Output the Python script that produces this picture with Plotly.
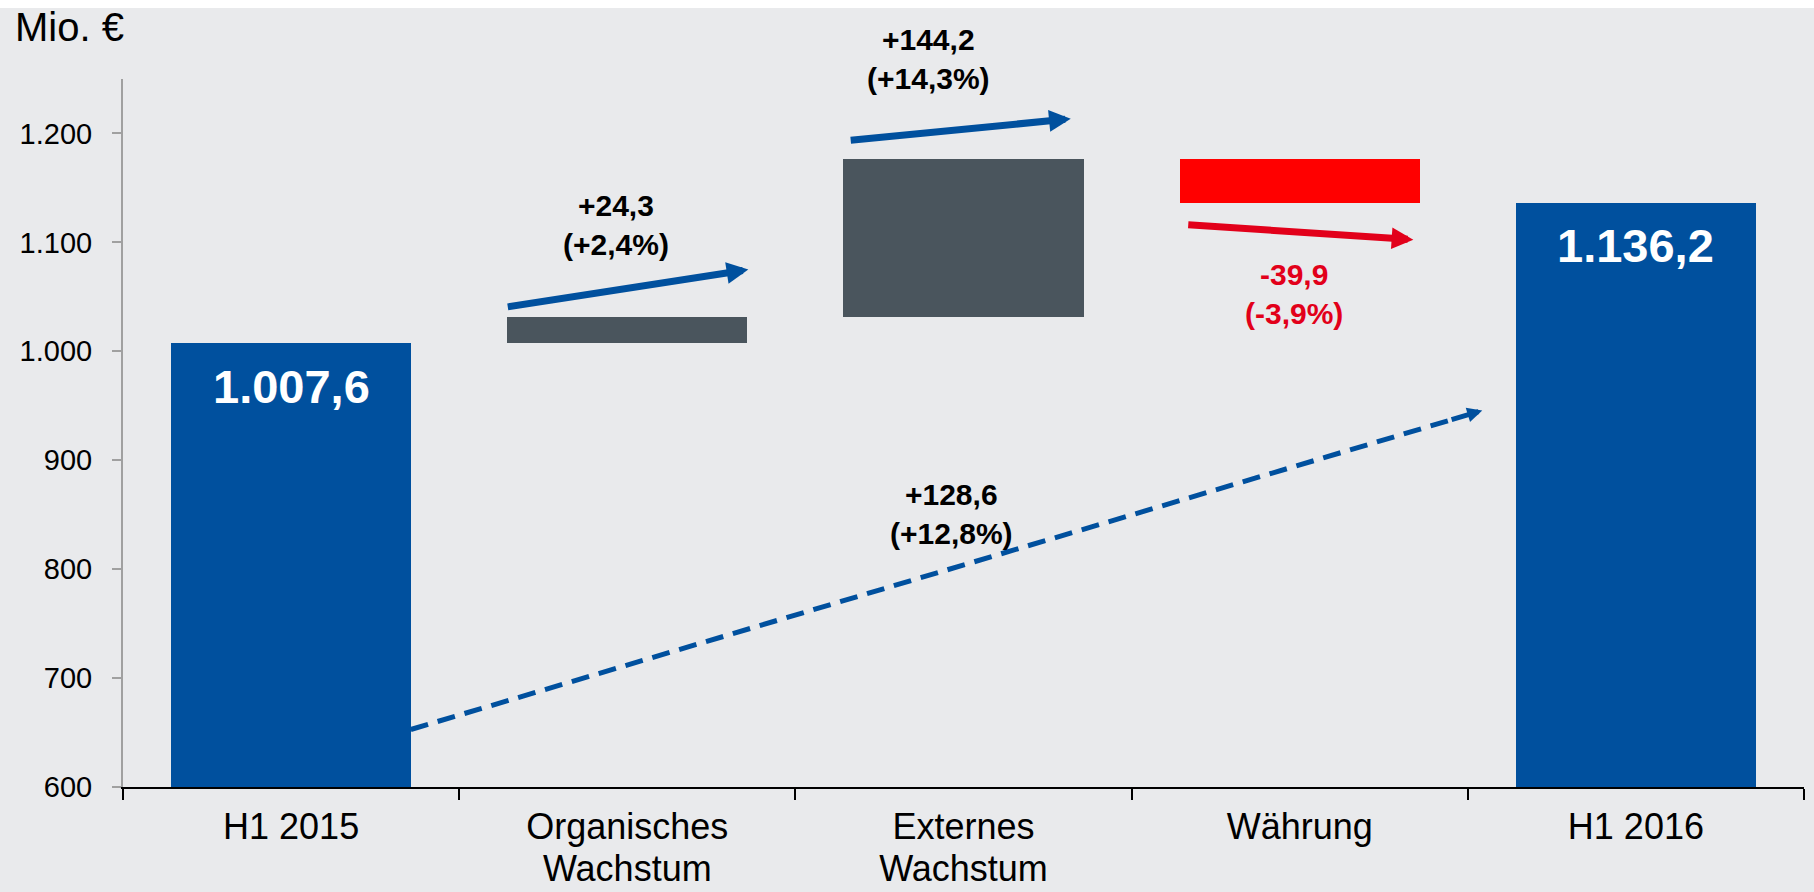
import plotly.graph_objects as go

# ---------------- data ----------------
categories = ["H1 2015", "Organisches<br>Wachstum", "Externes<br>Wachstum", "Währung", "H1 2016"]
start_value = 1007.6
changes = [24.3, 144.2, -39.9]          # organic, external, currency
end_value = 1136.2
change_labels = ["+24,3<br>(+2,4%)", "+144,2<br>(+14,3%)", "-39,9<br>(-3,9%)"]
total_change_label = "+128,6<br>(+12,8%)"
value_labels = ["1.007,6", "1.136,2"]
y_tick_vals = [600, 700, 800, 900, 1000, 1100, 1200]
y_tick_text = ["600", "700", "800", "900", "1.000", "1.100", "1.200"]
unit_label = "Mio. €"

# ---------------- styles ----------------
BLUE = "#00509E"
GREY = "#4A555D"
RED_BAR = "#FF0000"
RED = "#E2001A"
BG = "#E9EAEC"
FONT = "Liberation Sans, Arial, sans-serif"

x_pos = list(range(len(categories)))

# waterfall bases
bases = [0]
heights = [start_value]
running = start_value
for c in changes:
    bases.append(running)
    heights.append(c)
    running += c
bases.append(0)
heights.append(end_value)
colors = [BLUE, GREY, GREY, RED_BAR, BLUE]

fig = go.Figure()
fig.add_trace(go.Bar(
    x=x_pos, y=heights, base=bases, width=0.714,
    marker=dict(color=colors, line=dict(width=0)),
    hoverinfo="skip", showlegend=False,
))

# arrow geometry (axis units): tail x, tail y, head x, head y
arrow_geom = [
    (0.640, 1040.6, 1.360, 1075.0, BLUE),
    (1.660, 1193.6, 2.319, 1213.5, BLUE),
    (2.664, 1116.2, 3.338, 1102.5, RED),
]
annotations = []
for (ax0, ay0, hx, hy, col) in arrow_geom:
    annotations.append(dict(
        x=hx, y=hy, ax=ax0, ay=ay0, xref="x", yref="y", axref="x", ayref="y",
        text="", showarrow=True, arrowhead=2, arrowsize=0.62, arrowwidth=7,
        arrowcolor=col,
    ))

# dashed total arrow
dash_tail = (0.356, 652.8)
dash_head = (3.543, 945.6)
frac = 0.97
mid = (dash_tail[0] + (dash_head[0] - dash_tail[0]) * frac,
       dash_tail[1] + (dash_head[1] - dash_tail[1]) * frac)
fig.add_trace(go.Scatter(
    x=[dash_tail[0], mid[0]], y=[dash_tail[1], mid[1]], mode="lines",
    line=dict(color=BLUE, width=5, dash="18px,10px"),
    hoverinfo="skip", showlegend=False,
))
annotations.append(dict(
    x=dash_head[0], y=dash_head[1], ax=mid[0], ay=mid[1],
    xref="x", yref="y", axref="x", ayref="y",
    text="", showarrow=True, arrowhead=2, arrowsize=0.6, arrowwidth=5,
    arrowcolor=BLUE,
))

# change labels
label_pos = [
    dict(x=0.967, y=1116.1, yref="y"),
    dict(x=1.895, y=1.0285, yref="paper"),
    dict(x=2.983, y=1052.9, yref="y"),
]
label_colors = ["black", "black", RED]
for txt, pos, col in zip(change_labels, label_pos, label_colors):
    annotations.append(dict(
        x=pos["x"], y=pos["y"], xref="x", yref=pos["yref"],
        text="<b>" + txt + "</b>", showarrow=False,
        xanchor="center", yanchor="middle",
        font=dict(family=FONT, size=30, color=col),
    ))
annotations.append(dict(
    x=1.964, y=850.5, xref="x", yref="y",
    text="<b>" + total_change_label + "</b>", showarrow=False,
    xanchor="center", yanchor="middle",
    font=dict(family=FONT, size=30, color="black"),
))

# value labels inside total bars
for xi, val, txt in [(0, start_value, value_labels[0]), (4, end_value, value_labels[1])]:
    annotations.append(dict(
        x=xi, y=val, xref="x", yref="y", text="<b>" + txt + "</b>",
        showarrow=False, xanchor="center", yanchor="middle", yshift=-43,
        font=dict(family=FONT, size=47, color="white"),
    ))

# unit label
annotations.append(dict(
    x=-0.0654, y=1.0734, xref="paper", yref="paper", text=unit_label,
    showarrow=False, xanchor="left", yanchor="middle",
    font=dict(family=FONT, size=40, color="black"),
))

# category tick labels: glyphs at 36px, line spacing of a 32px font
cat_ticktext = ["<br>".join('<span style="font-size:36px">' + part + "</span>"
                            for part in c.split("<br>")) for c in categories]

fig.update_layout(
    width=1814, height=892,
    margin=dict(l=123, r=10, t=79, b=105, pad=0),
    paper_bgcolor=BG, plot_bgcolor=BG,
    font=dict(family=FONT, color="black"),
    annotations=annotations,
    bargap=0,
    shapes=[dict(type="rect", xref="paper", yref="paper",
                 x0=-0.08, x1=1.01, y0=(787 - 8) / 708, y1=1.13,
                 fillcolor="white", line=dict(width=0), layer="above")],
)
fig.update_xaxes(
    range=[-0.5, 4.5], tickmode="array", tickvals=x_pos, ticktext=cat_ticktext,
    ticks="", showgrid=False, zeroline=False, automargin=False,
    showline=True, linecolor="black", linewidth=2,
    tickfont=dict(family=FONT, size=32, color="black"),
    ticklabelstandoff=12,
    minor=dict(tickmode="array", tickvals=[-0.5, 0.5, 1.5, 2.5, 3.5, 4.5],
               ticks="outside", ticklen=11, tickwidth=2, tickcolor="black",
               showgrid=False),
)
fig.update_yaxes(
    range=[600, 1250], tickmode="array", tickvals=y_tick_vals, ticktext=y_tick_text,
    ticks="outside", ticklen=9, tickwidth=2, tickcolor="#A0A0A0",
    showline=True, linecolor="#A0A0A0", linewidth=2,
    showgrid=False, zeroline=False, automargin=False,
    tickfont=dict(family=FONT, size=29, color="black"),
    ticklabelstandoff=14,
)

fig.write_html(
    "out.html",
    config={"displayModeBar": False},
    post_script="document.body.style.margin='0';document.body.style.overflow='hidden';"
                "document.body.style.background='" + BG + "';"
                "document.documentElement.style.overflow='hidden';",
)
